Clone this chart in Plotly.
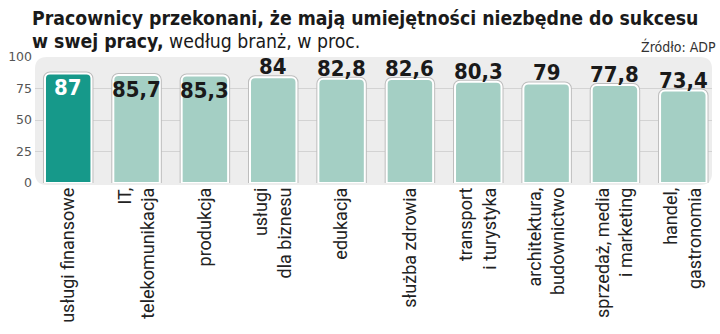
import plotly.graph_objects as go

# Share of employees (%) who believe they have the skills needed to succeed at work
categories = [
    "usługi finansowe",
    "IT,<br>telekomunikacja",
    "produkcja",
    "usługi<br>dla biznesu",
    "edukacja",
    "służba zdrowia",
    "transport<br>i turystyka",
    "architektura,<br>budownictwo",
    "sprzedaż, media<br>i marketing",
    "handel,<br>gastronomia",
]
values = [87, 85.7, 85.3, 84, 82.8, 82.6, 80.3, 79, 77.8, 73.4]
y_ticks = [0, 25, 50, 75, 100]

labels = [f"{v:g}".replace(".", ",") for v in values]
bar_colors = ["#16998a"] + ["#a4cfc4"] * (len(values) - 1)
label_colors = ["#ffffff"] + ["#1a1a1a"] * (len(values) - 1)

COND = "DejaVu Sans Condensed, Roboto Condensed, Arial Narrow, Liberation Sans, sans-serif"

W, H = 720, 334
ML, MR, MT, MB = 28, 8, 57, 151
PW, PH = W - ML - MR, H - MT - MB


def px_x(p):
    return (p - ML) / PW


def px_y(p):
    return (H - MB - p) / PH


fig = go.Figure()

# soft grey outline around each bar
fig.add_trace(go.Bar(
    x=categories, y=values, width=0.68,
    marker=dict(color="#bdbdbd", line=dict(color="#bdbdbd", width=4), cornerradius=5),
    hoverinfo="skip", showlegend=False,
))
fig.add_trace(go.Bar(
    x=categories, y=values, width=0.68,
    marker=dict(color=bar_colors, line=dict(color="#ffffff", width=2), cornerradius=5),
    hoverinfo="x+y", showlegend=False,
))

# value labels: the tallest bars carry them inside the top, the rest sit above
for cat, val, lab, col in zip(categories, values, labels, label_colors):
    inside = val > 85
    fig.add_annotation(
        x=cat, y=val, xref="x", yref="y", text=f"<b>{lab}</b>",
        showarrow=False, xanchor="center",
        yanchor="top" if inside else "bottom",
        yshift=0 if inside else -4,
        font=dict(family=COND, size=22, color=col if inside else "#1a1a1a"),
    )

# rounded grey panel behind the plot
rx, ry = 12 / PW, 12 / PH
x0, x1, y0, y1 = 0, 1, -2 / PH, 1
panel = (f"M {x0+rx},{y0} L {x1-rx},{y0} Q {x1},{y0} {x1},{y0+ry} "
         f"L {x1},{y1-ry} Q {x1},{y1} {x1-rx},{y1} L {x0+rx},{y1} "
         f"Q {x0},{y1} {x0},{y1-ry} L {x0},{y0+ry} Q {x0},{y0} {x0+rx},{y0} Z")
fig.add_shape(type="path", path=panel, xref="paper", yref="paper",
              fillcolor="#ededed", line=dict(width=0), layer="below")

title_font = dict(family=COND, size=19.3, color="#1a1a1a")
fig.add_annotation(
    text="<b>Pracownicy przekonani, że mają umiejętności niezbędne do sukcesu</b>",
    xref="paper", yref="paper", x=px_x(23), y=px_y(18),
    xanchor="left", yanchor="middle", showarrow=False, font=title_font,
)
fig.add_annotation(
    text="<b>w swej pracy,</b> według branż, w proc.",
    xref="paper", yref="paper", x=px_x(23), y=px_y(41),
    xanchor="left", yanchor="middle", showarrow=False, font=title_font,
)
fig.add_annotation(
    text="Źródło: ADP",
    xref="paper", yref="paper", x=px_x(718), y=px_y(46),
    xanchor="right", yanchor="middle", showarrow=False,
    font=dict(family=COND, size=14, color="#333333"),
)

fig.update_layout(
    width=W, height=H,
    margin=dict(l=ML, r=MR, t=MT, b=MB),
    barmode="overlay",
    paper_bgcolor="#ffffff", plot_bgcolor="rgba(0,0,0,0)",
    font=dict(family="Roboto"),
)
fig.update_xaxes(
    range=[-0.486, 9.42], tickangle=-90, showgrid=False, zeroline=False,
    showline=False, ticks="",
    tickfont=dict(family="Roboto", size=18, color="#222222"),
)
fig.update_yaxes(
    range=[0, 100], tickvals=y_ticks, showgrid=True, gridcolor="#d3d3d3",
    gridwidth=1, zeroline=False, showline=False, ticks="",
    tickfont=dict(family="DejaVu Sans", size=12.5, color="#555555"),
    ticklabelstandoff=2,
)

fig.write_html("out.html")
